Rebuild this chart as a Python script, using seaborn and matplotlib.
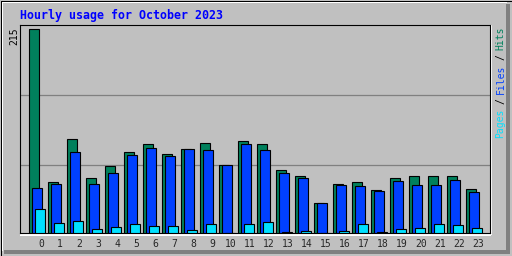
import matplotlib
matplotlib.use("Agg")
import matplotlib.pyplot as plt
import seaborn as sns
import numpy as np
import pandas as pd

# ---- data ----
hours = list(range(24))
hits = [215, 54, 99, 58, 71, 86, 94, 83, 89, 95, 72, 97, 94, 66, 60, 32, 52, 54, 45, 58, 60, 60, 60, 46]
files = [47, 52, 86, 52, 63, 82, 90, 81, 89, 88, 72, 94, 88, 63, 58, 32, 51, 50, 44, 55, 51, 51, 56, 43]
pages = [25, 11, 13, 4, 6, 10, 7, 7, 3, 9, 0, 9, 12, 1, 2, 0, 2, 9, 1, 4, 5, 9, 8, 5]
max_label = "215"
title = "Hourly usage for October 2023"

C_HITS = "#00805C"
C_FILES = "#0040FF"
C_PAGES = "#00E0FF"
BG = "#C0C0C0"

sns.set_theme(style="white")
plt.rcParams["font.family"] = ["DejaVu Sans Mono", "DejaVu Sans"]

W, H = 512, 256
fig = plt.figure(figsize=(W / 100, H / 100), dpi=100, facecolor=BG)

# background frame axes (pixel coords)
bg = fig.add_axes([0, 0, 1, 1], zorder=-1)
bg.set_xlim(0, W)
bg.set_ylim(H, 0)
bg.axis("off")
bg.set_facecolor(BG)
lw = 0.72
# white highlight top/left
bg.plot([1, 507], [1.5, 1.5], color="white", lw=lw * 2, solid_capstyle="butt")
bg.plot([1.5, 1.5], [1, 251], color="white", lw=lw * 2, solid_capstyle="butt")
# dark shadow right/bottom
bg.fill_between([506, 510], [4, 4], [254, 254], color="#808080", lw=0)
bg.fill_between([4, 510], [250, 250], [254, 254], color="#808080", lw=0)
# outer black border
bg.plot([0.5, 511.5, 511.5, 0.5, 0.5], [0.5, 0.5, 255.5, 255.5, 0.5], color="black", lw=lw)
# inner white shadow of plot frame
bg.plot([20, 490.5], [234.5, 234.5], color="white", lw=lw * 2, solid_capstyle="butt")
bg.plot([490.5, 490.5], [25, 235], color="white", lw=lw * 2, solid_capstyle="butt")

# main axes
ax_l, ax_r, ax_t, ax_b = 20, 489.5, 25, 233
ax = fig.add_axes([ax_l / W, (H - ax_b) / H, (ax_r - ax_l) / W, (ax_b - ax_t) / H])
ax.set_facecolor(BG)

px = 19.0  # pixels per hour
bw = 10.0 / px
x0 = np.array(hours, dtype=float)
df = pd.DataFrame({"hour": hours, "hits": hits, "files": files, "pages": pages})

for col, off, color in [("hits", 0.0, C_HITS), ("files", 2.7 / px, C_FILES), ("pages", 6.0 / px, C_PAGES)]:
    d = pd.DataFrame({"x": x0 + off + bw / 2, "y": df[col]})
    sns.barplot(data=d, x="x", y="y", native_scale=True, orient="x", width=bw,
                color=color, saturation=1, edgecolor="black", linewidth=0.8,
                errorbar=None, ax=ax, zorder=3)

ymax = 215
yscale = ymax / (ax_b - 29.3)
ax.set_ylim(0, (ax_b - ax_t) * yscale)
ax.set_xlim((ax_l - 29.3) / px, (ax_r - 29.3) / px)

for frac in (0.3255, 0.662):
    ax.plot([0, 1], [frac, frac], transform=ax.transAxes, color="#808080", lw=0.9, zorder=1)

ax.set_xticks(x0 + 11.7 / px)
ax.set_xticklabels([str(h) for h in hours], fontsize=7, family="DejaVu Sans Mono")
ax.tick_params(axis="x", length=0, pad=4.5)
ax.set_yticks([])
ax.set_xlabel("")
ax.set_ylabel("")
for s in ax.spines.values():
    s.set_visible(True)
    s.set_color("black")
    s.set_linewidth(0.8)

def ftext(xp, yp, s, **kw):
    fig.text(xp / W, 1 - yp / H, s, **kw)

ftext(20, 15, title, color="#0000FF", fontsize=8.4, fontweight="bold",
      family="DejaVu Sans Mono", ha="left", va="center")
ftext(14.5, 36.5, max_label, rotation=90, fontsize=7, family="DejaVu Sans Mono",
      ha="center", va="center", color="black")

# right legend: "Pages / Files / Hits", bottom-to-top
leg_bottom = 137.5
cpx = 5.5
segs = [("Pages", 0, C_PAGES), ("/", 6, "black"), ("Files", 8, C_FILES), ("/", 14, "black"), ("Hits", 16, C_HITS)]
for s, i, c in segs:
    ftext(500.5, leg_bottom - cpx * i, s, rotation=90, fontsize=7, family="DejaVu Sans Mono",
          ha="center", va="bottom", color=c)

fig.savefig("out.png", dpi=100, facecolor=BG)
